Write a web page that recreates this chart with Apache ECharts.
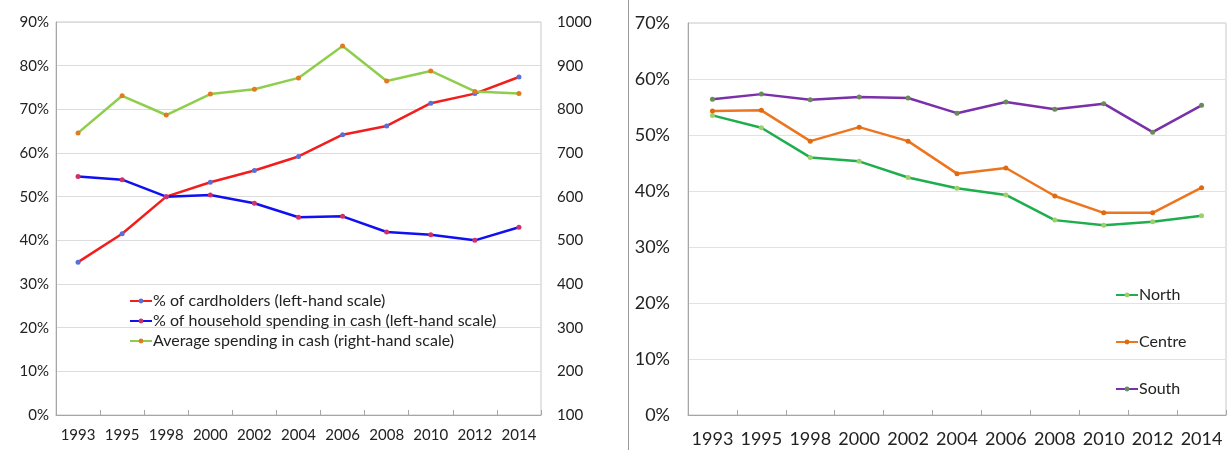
<!DOCTYPE html>
<html>
<head>
<meta charset="utf-8">
<script src="https://cdn.jsdelivr.net/npm/echarts@6/dist/echarts.min.js"></script>
<style>html,body{margin:0;padding:0;background:#fff;}#c{width:1229px;height:450px;}</style>
</head>
<body>
<div id="c"></div>
<script>
const years = ['1993','1995','1998','2000','2002','2004','2006','2008','2010','2012','2014'];
const cardholders = [35.0, 41.5, 50.0, 53.3, 56.0, 59.2, 64.2, 66.2, 71.4, 73.6, 77.4];
const cashShare = [54.6, 53.9, 50.0, 50.4, 48.5, 45.3, 45.5, 41.9, 41.3, 40.0, 43.0];
const avgCash = [746, 831, 787, 835, 846, 872, 945, 865, 888, 841, 836];
const north = [53.5, 51.3, 46.0, 45.3, 42.4, 40.5, 39.3, 34.8, 33.9, 34.5, 35.6];
const centre = [54.3, 54.4, 48.9, 51.4, 48.9, 43.1, 44.1, 39.1, 36.1, 36.1, 40.6];
const south = [56.4, 57.3, 56.3, 56.8, 56.6, 53.9, 55.9, 54.6, 55.6, 50.5, 55.3];
const leftNames = ['% of cardholders (left-hand scale)', '% of household spending in cash (left-hand scale)', 'Average spending in cash (right-hand scale)'];
const rightNames = ['North', 'Centre', 'South'];

const FONT = 'Lato, "Open Sans", sans-serif';
const chart = echarts.init(document.getElementById('c'), null, {renderer: 'canvas'});

function lineSeries(name, data, color, markColor, xi, yi) {
  return {
    name, type: 'line', data, xAxisIndex: xi, yAxisIndex: yi,
    symbol: 'circle', symbolSize: 5, showSymbol: true,
    lineStyle: {color, width: 2.5},
    itemStyle: {color: markColor, borderColor: markColor, borderWidth: 0},
    color: color, animation: false
  };
}

const catAxis = (gi, fs, margin) => ({
  type: 'category', gridIndex: gi, data: years, boundaryGap: true,
  axisLine: {lineStyle: {color: '#a6a6a6', width: 1}},
  axisTick: {show: true, inside: true, length: 5, lineStyle: {color: '#a6a6a6'}},
  axisLabel: {color: '#222', fontSize: fs, fontFamily: FONT, margin: margin, interval: 0},
  splitLine: {show: false}
});

chart.setOption({
  backgroundColor: '#fff',
  animation: false,
  textStyle: {fontFamily: FONT},
  graphic: [{type: 'line', shape: {x1: 628.5, y1: 0, x2: 628.5, y2: 450}, style: {stroke: '#9a9a9a', lineWidth: 1}}],
  grid: [
    {left: 56, right: 1229 - 541, top: 22, bottom: 450 - 415, show: true, borderColor: '#c8c8c8', borderWidth: 1, containLabel: false},
    {left: 688, right: 3, top: 23, bottom: 450 - 415, show: true, borderColor: '#c8c8c8', borderWidth: 1, containLabel: false}
  ],
  xAxis: [catAxis(0, 15, 13), catAxis(1, 18, 15)],
  yAxis: [
    {type: 'value', gridIndex: 0, min: 0, max: 90, interval: 10, position: 'left',
      axisLine: {show: true, lineStyle: {color: '#a6a6a6'}}, axisTick: {show: false},
      axisLabel: {formatter: '{value}%', color: '#222', fontSize: 15, fontFamily: FONT, margin: 7},
      splitLine: {lineStyle: {color: '#dcdcdc', width: 1}}},
    {type: 'value', gridIndex: 0, min: 100, max: 1000, interval: 100, position: 'right',
      axisLine: {show: false}, axisTick: {show: false},
      axisLabel: {formatter: function (v) { return String(v); }, color: '#222', fontSize: 15, fontFamily: FONT, margin: 16},
      splitLine: {show: false}},
    {type: 'value', gridIndex: 1, min: 0, max: 70, interval: 10,
      axisLine: {show: true, lineStyle: {color: '#a6a6a6'}}, axisTick: {show: false},
      axisLabel: {formatter: '{value}%', color: '#222', fontSize: 18, fontFamily: FONT, margin: 18},
      splitLine: {lineStyle: {color: '#e2e2e2', width: 1}}}
  ],
  legend: [
    {data: leftNames, orient: 'vertical', left: 124, top: 288, itemGap: 4, itemWidth: 22, itemHeight: 6,
      textStyle: {fontSize: 16, color: '#222', fontFamily: FONT, padding: [0, 0, 0, -4]}, selectedMode: false},
    {data: rightNames, orient: 'vertical', left: 1110, top: 282, itemGap: 31, itemWidth: 22, itemHeight: 6,
      textStyle: {fontSize: 16, color: '#222', fontFamily: FONT, padding: [0, 0, 0, -4]}, selectedMode: false}
  ],
  series: [
    lineSeries(leftNames[0], cardholders, '#f21d1d', '#5a6fd8', 0, 0),
    lineSeries(leftNames[1], cashShare, '#1010f0', '#d0306a', 0, 0),
    lineSeries(leftNames[2], avgCash, '#8fce4c', '#e07b20', 0, 1),
    lineSeries(rightNames[0], north, '#1fae4e', '#9fcf6a', 1, 2),
    lineSeries(rightNames[1], centre, '#ec7520', '#e06a10', 1, 2),
    lineSeries(rightNames[2], south, '#7a30a8', '#6a8a5a', 1, 2)
  ]
});
</script>
</body>
</html>
